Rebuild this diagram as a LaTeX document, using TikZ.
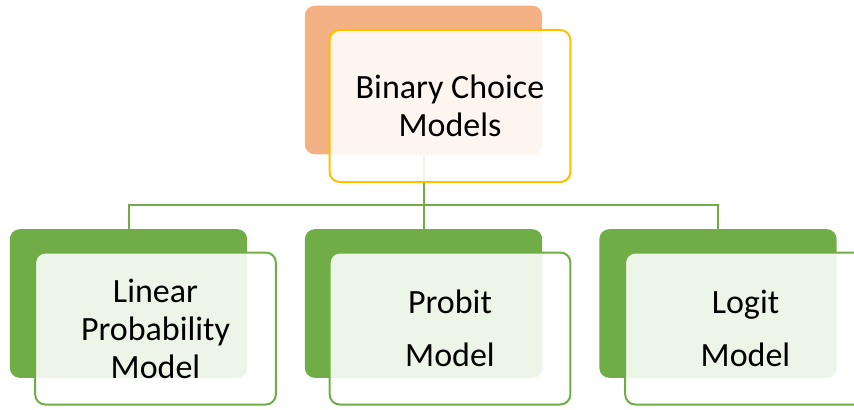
\documentclass[tikz,border=0pt]{standalone}
\usepackage{fontspec}
\setmainfont{Carlito}
\usetikzlibrary{positioning}
\definecolor{rootback}{RGB}{244,177,131}
\definecolor{rootedge}{RGB}{255,192,0}
\definecolor{leafgreen}{RGB}{112,173,71}

\begin{document}
\begin{tikzpicture}[x=0.75pt,y=-0.75pt,
  back/.style={rectangle,rounded corners=7.5pt,minimum width=178pt,minimum height=111.5pt},
  front/.style={rectangle,rounded corners=7.5pt,line width=1.5pt,fill=white,fill opacity=0.88,text opacity=1,
    minimum width=180.5pt,minimum height=114pt,align=center,font=\fontsize{25.5}{28.5}\selectfont},
  wide/.style={font=\fontsize{25.5}{39.75}\selectfont},
  link/.style={draw=leafgreen,line width=1.5pt}]
  \useasboundingbox (0,0) rectangle (854,410);
  % back plates
  \node[back,fill=rootback] (rootback) at (423.5,80) {};
  \node[back,fill=leafgreen] (lpmback) at (128.5,303.5) {};
  \node[back,fill=leafgreen] (probitback) at (423.5,303.5) {};
  \node[back,fill=leafgreen] (logitback) at (718,303.5) {};
  % connectors
  \coordinate (bus) at (423.5,205);
  \draw[link] (rootback.south) -- (probitback.north);
  \draw[link] (lpmback.north) |- (bus) -| (logitback.north);
  % front boxes
  \node[front,draw=rootedge] (root) at (450,106) {Binary Choice\\Models};
  \node[front,draw=leafgreen] (lpm) at (155.5,328.5) {Linear\\Probability\\Model};
  \node[front,wide,draw=leafgreen] (probit) at (450,328.5) {Probit\\Model};
  \node[front,wide,draw=leafgreen] (logit) at (745.5,328.5) {Logit\\Model};
\end{tikzpicture}
\end{document}
